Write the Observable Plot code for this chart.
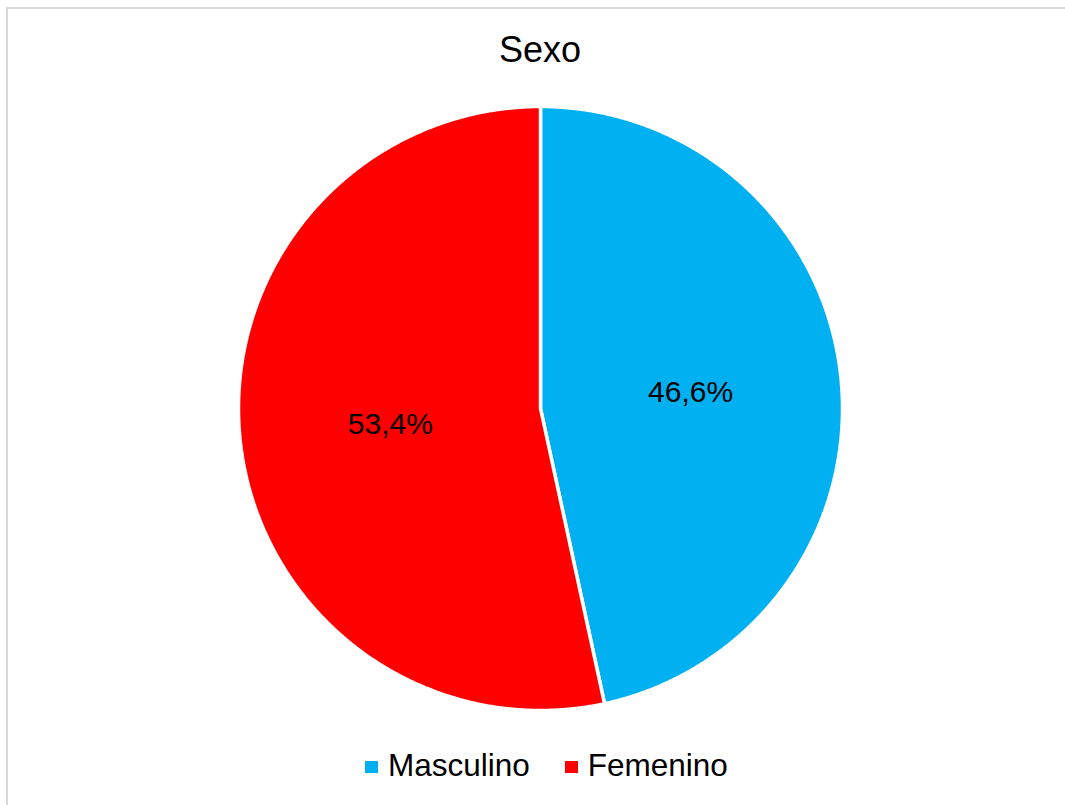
<!DOCTYPE html>
<html><head><meta charset="utf-8">
<script src="https://cdn.jsdelivr.net/npm/d3@7"></script>
<script src="https://cdn.jsdelivr.net/npm/@observablehq/plot@0.6"></script>
<style>
html,body{margin:0;padding:0;background:#fff;overflow:hidden;}
#wrap{position:relative;width:1065px;height:805px;overflow:hidden;font-family:"Liberation Sans",Arial,sans-serif;color:#000;}
#frame{position:absolute;left:6px;top:7px;width:2000px;height:2000px;border:2px solid #d9d9d9;}
#title{position:absolute;left:0;width:1080px;top:32px;text-align:center;font-size:36px;line-height:1;}
#chart{position:absolute;left:0;top:90px;}
#legend{position:absolute;left:365px;top:750px;display:flex;align-items:flex-start;font-size:31.5px;line-height:1;white-space:nowrap;}
.sw{display:inline-block;width:13px;height:12px;margin-top:11px;margin-right:10px;}
.item{display:flex;align-items:flex-start;margin-right:35px;}
</style></head>
<body>
<div id="wrap">
  <div id="frame"></div>
  <div id="title">Sexo</div>
  <div id="chart"></div>
  <div id="legend"></div>
</div>
<script>
const title = "Sexo";
const categories = ["Masculino", "Femenino"];
const values = [46.6, 53.4];
const valueLabels = ["46,6%", "53,4%"];
const colors = ["#00B0F0", "#FF0000"];

document.getElementById("title").textContent = title;

const table = categories.map((c, i) => ({category: c, value: values[i], label: valueLabels[i]}));
const arcs = d3.pie().sort(null).value(d => d.value)(table);

// Polygon outline of each slice in unit-circle coordinates (y up)
const pts = [];
arcs.forEach(a => {
  const c = a.data.category;
  pts.push({category: c, x: 0, y: 0});
  const n = Math.max(2, Math.ceil((a.endAngle - a.startAngle) / (Math.PI / 720)));
  for (let k = 0; k <= n; k++) {
    const t = a.startAngle + (a.endAngle - a.startAngle) * k / n;
    pts.push({category: c, x: Math.sin(t), y: Math.cos(t)});
  }
  pts.push({category: c, x: 0, y: 0});
});

const labelData = arcs.map(a => {
  const m = (a.startAngle + a.endAngle) / 2;
  return {text: a.data.label, x: 0.5 * Math.sin(m), y: 0.5 * Math.cos(m)};
});

const chart = Plot.plot({
  width: 1065,
  height: 640,
  marginLeft: 238,
  marginRight: 223,
  marginTop: 16,
  marginBottom: 20,
  x: {domain: [-1, 1], axis: null},
  y: {domain: [-1, 1], axis: null},
  color: {domain: categories, range: colors},
  style: {fontFamily: "'Liberation Sans', Arial, sans-serif", background: "transparent"},
  marks: [
    Plot.line(pts, {x: "x", y: "y", z: "category", fill: "category", stroke: "white", strokeWidth: 3.5, strokeLinejoin: "miter"}),
    Plot.text(labelData, {x: "x", y: "y", text: "text", fontSize: 30, fill: "black"})
  ]
});
document.getElementById("chart").appendChild(chart);

const legend = document.getElementById("legend");
categories.forEach((c, i) => {
  const item = document.createElement("div");
  item.className = "item";
  const sw = document.createElement("span");
  sw.className = "sw";
  sw.style.background = colors[i];
  const tx = document.createElement("span");
  tx.textContent = c;
  item.appendChild(sw);
  item.appendChild(tx);
  legend.appendChild(item);
});
</script>
</body></html>
